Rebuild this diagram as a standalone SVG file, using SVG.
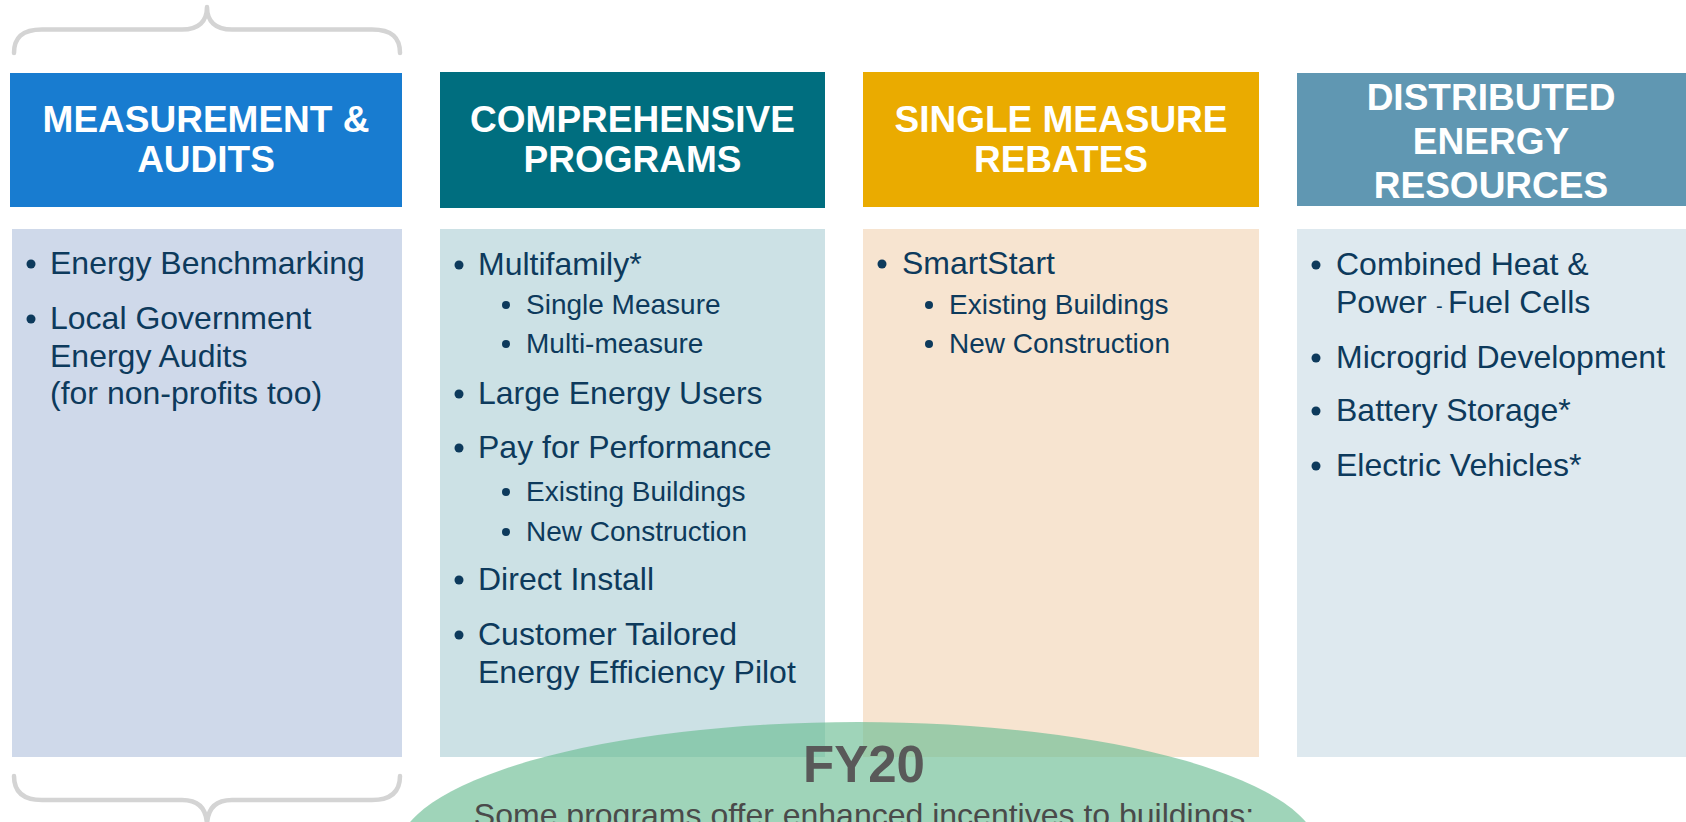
<svg xmlns="http://www.w3.org/2000/svg" width="1686" height="822" viewBox="0 0 1686 822">
  <style>
    .hdr { font-family: "Liberation Sans", Arial, sans-serif; font-weight: bold; font-size: 37px; fill: #ffffff; text-anchor: middle; }
    .item { font-family: "Liberation Sans", Arial, sans-serif; font-size: 32px; fill: #0D3A5C; }
    .sub { font-family: "Liberation Sans", Arial, sans-serif; font-size: 28px; fill: #0D3A5C; }
    .b1 { fill: #0D3A5C; }
    .brace { fill: none; stroke: #D4D4D4; stroke-width: 4.5; stroke-linecap: round; stroke-linejoin: round; }
    .fy { font-family: "Liberation Sans", Arial, sans-serif; font-weight: bold; font-size: 51px; fill: #595959; text-anchor: middle; }
    .note { font-family: "Liberation Sans", Arial, sans-serif; font-size: 32px; fill: #4A4A4A; text-anchor: middle; }
  </style>
  <rect x="0" y="0" width="1686" height="822" fill="#ffffff"/>

  <g id="decorations">
    <path class="brace" d="M14,53 C14,38 22,29.5 42,29.5 L182,29.5 C199,29.5 207,21 207,7 C207,21 215,29.5 232,29.5 L372,29.5 C392,29.5 400,38 400,53"/>
    <path class="brace" d="M14,776 C14,791 22,800 42,800 L182,800 C199,800 207,809 207,826 C207,809 215,800 232,800 L372,800 C392,800 400,791 400,776"/>
  </g>

  <g id="measurement-audits">
    <rect x="10" y="73" width="392" height="134" fill="#187CD0"/>
    <text class="hdr" x="206" y="132">MEASUREMENT &amp;</text>
    <text class="hdr" x="206" y="172">AUDITS</text>
    <rect x="12" y="229" width="390" height="528" fill="#CFD9EA"/>
    <circle class="b1" cx="31" cy="264" r="4.5"/>
    <text class="item" x="50" y="274">Energy Benchmarking</text>
    <circle class="b1" cx="31" cy="319" r="4.5"/>
    <text class="item" x="50" y="329">Local Government</text>
    <text class="item" x="50" y="367">Energy Audits</text>
    <text class="item" x="50" y="404">(for non-profits too)</text>
  </g>

  <g id="comprehensive-programs">
    <rect x="440" y="72" width="385" height="136" fill="#006E7F"/>
    <text class="hdr" x="632.5" y="132">COMPREHENSIVE</text>
    <text class="hdr" x="632.5" y="172">PROGRAMS</text>
    <rect x="440" y="229" width="385" height="528" fill="#CCE1E5"/>
    <circle class="b1" cx="459" cy="265" r="4.5"/>
    <text class="item" x="478" y="275">Multifamily*</text>
    <circle class="b1" cx="506" cy="305" r="4"/>
    <text class="sub" x="526" y="314">Single Measure</text>
    <circle class="b1" cx="506" cy="344" r="4"/>
    <text class="sub" x="526" y="353">Multi-measure</text>
    <circle class="b1" cx="459" cy="394" r="4.5"/>
    <text class="item" x="478" y="404">Large Energy Users</text>
    <circle class="b1" cx="459" cy="448" r="4.5"/>
    <text class="item" x="478" y="458">Pay for Performance</text>
    <circle class="b1" cx="506" cy="492" r="4"/>
    <text class="sub" x="526" y="501">Existing Buildings</text>
    <circle class="b1" cx="506" cy="532" r="4"/>
    <text class="sub" x="526" y="541">New Construction</text>
    <circle class="b1" cx="459" cy="580" r="4.5"/>
    <text class="item" x="478" y="590">Direct Install</text>
    <circle class="b1" cx="459" cy="635" r="4.5"/>
    <text class="item" x="478" y="645">Customer Tailored</text>
    <text class="item" x="478" y="683">Energy Efficiency Pilot</text>
  </g>

  <g id="single-measure-rebates">
    <rect x="863" y="72" width="396" height="135" fill="#EAAB00"/>
    <text class="hdr" x="1061" y="132">SINGLE MEASURE</text>
    <text class="hdr" x="1061" y="172">REBATES</text>
    <rect x="863" y="229" width="396" height="528" fill="#F7E4D0"/>
    <circle class="b1" cx="882" cy="264" r="4.5"/>
    <text class="item" x="902" y="274">SmartStart</text>
    <circle class="b1" cx="929" cy="305" r="4"/>
    <text class="sub" x="949" y="314">Existing Buildings</text>
    <circle class="b1" cx="929" cy="344" r="4"/>
    <text class="sub" x="949" y="353">New Construction</text>
  </g>

  <g id="distributed-energy-resources">
    <rect x="1297" y="73" width="389" height="133" fill="#6097B2"/>
    <text class="hdr" x="1491" y="110">DISTRIBUTED</text>
    <text class="hdr" x="1491" y="154">ENERGY</text>
    <text class="hdr" x="1491" y="198">RESOURCES</text>
    <rect x="1297" y="229" width="389" height="528" fill="#DEE9EF"/>
    <circle class="b1" cx="1316" cy="265" r="4.5"/>
    <text class="item" x="1336" y="275">Combined Heat &amp;</text>
    <text class="item" x="1336" y="313">Power<tspan x="1436" font-size="20">-</tspan><tspan x="1448">Fuel Cells</tspan></text>
    <circle class="b1" cx="1316" cy="358" r="4.5"/>
    <text class="item" x="1336" y="368">Microgrid Development</text>
    <circle class="b1" cx="1316" cy="411" r="4.5"/>
    <text class="item" x="1336" y="421">Battery Storage*</text>
    <circle class="b1" cx="1316" cy="466" r="4.5"/>
    <text class="item" x="1336" y="476">Electric Vehicles*</text>
  </g>

  <g id="fy20">
    <ellipse cx="858" cy="853" rx="461" ry="131" fill="#6CBD94" fill-opacity="0.65"/>
    <text class="fy" x="864" y="782">FY20</text>
    <text class="note" x="864" y="826">Some programs offer enhanced incentives to buildings:</text>
  </g>
</svg>
